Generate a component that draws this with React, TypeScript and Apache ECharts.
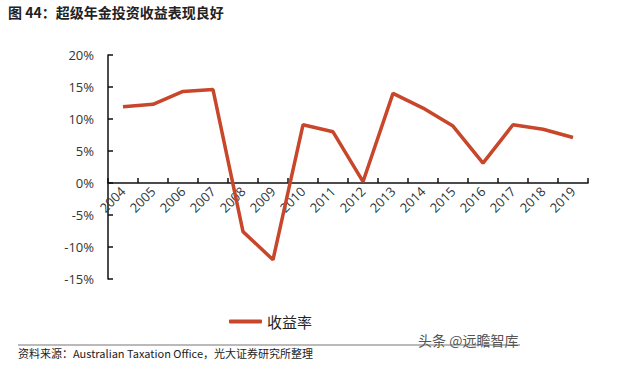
import React, { useEffect, useRef } from "react";
import * as echarts from "echarts";

const years = ["2004", "2005", "2006", "2007", "2008", "2009", "2010", "2011", "2012", "2013", "2014", "2015", "2016", "2017", "2018", "2019"];
const returns = [11.9, 12.3, 14.3, 14.6, -7.6, -12.0, 9.1, 8.0, 0.2, 14.0, 11.7, 8.9, 3.1, 9.1, 8.4, 7.1];
const seriesName = "收益率";
const titleText = "图 44：超级年金投资收益表现良好";
const sourceText = "资料来源：Australian Taxation Office，光大证券研究所整理";
const watermark = "头条 @远瞻智库";

export default function App() {
  const ref = useRef<HTMLDivElement>(null);
  useEffect(() => {
    if (!ref.current) return;
    const chart = echarts.init(ref.current, null, { renderer: "svg" });
    const axisFont = { fontFamily: "Open Sans", fontSize: 13, color: "#333" };
    chart.setOption({
      animation: false,
      backgroundColor: "#fff",
      grid: { left: 108, right: 52, top: 55, bottom: 90, containLabel: false },
      xAxis: {
        type: "category",
        data: years,
        boundaryGap: true,
        offset: -96,
        axisLine: { onZero: false, lineStyle: { color: "#111", width: 1.5 } },
        axisTick: { show: true, inside: true, length: 5, alignWithLabel: false, lineStyle: { color: "#111", width: 1.5 } },
        axisLabel: { ...axisFont, rotate: 45, interval: 0, margin: 6 },
        splitLine: { show: false },
      },
      yAxis: {
        type: "value",
        min: -15,
        max: 20,
        interval: 5,
        axisLine: { show: true, lineStyle: { color: "#111", width: 1.5 } },
        axisTick: { show: true, inside: true, length: 5, lineStyle: { color: "#111", width: 1.5 } },
        axisLabel: { ...axisFont, formatter: "{value}%", margin: 14 },
        splitLine: { show: false },
      },
      legend: {
        data: [{ name: seriesName, icon: "roundRect" }],
        left: 224,
        top: 309,
        itemWidth: 33,
        itemHeight: 4,
        itemGap: 3,
        textStyle: { fontSize: 15, color: "#222", fontFamily: "Noto Sans CJK SC" },
      },
      series: [
        {
          name: seriesName,
          type: "line",
          data: returns,
          symbol: "none",
          lineStyle: { color: "#C8462A", width: 3.5 },
          itemStyle: { color: "#C8462A" },
        },
      ],
      graphic: [
        {
          type: "text",
          left: 8,
          top: 5,
          style: { text: titleText, font: "bold 14px 'Noto Sans CJK SC'", fill: "#222" },
        },
        {
          type: "line",
          shape: { x1: 18, y1: 345, x2: 520, y2: 345 },
          style: { stroke: "#777", lineWidth: 1.2 },
        },
        {
          type: "text",
          left: 18,
          top: 347,
          style: { text: sourceText, font: "11px 'Noto Sans CJK SC'", fill: "#222" },
        },
        {
          type: "text",
          left: 418,
          top: 333,
          style: { text: watermark, font: "14px 'Noto Sans CJK SC'", fill: "#555" },
        },
      ],
    });
    return () => chart.dispose();
  }, []);
  return <div ref={ref} style={{ position: "fixed", left: 0, top: 0, width: 640, height: 369 }} />;
}
